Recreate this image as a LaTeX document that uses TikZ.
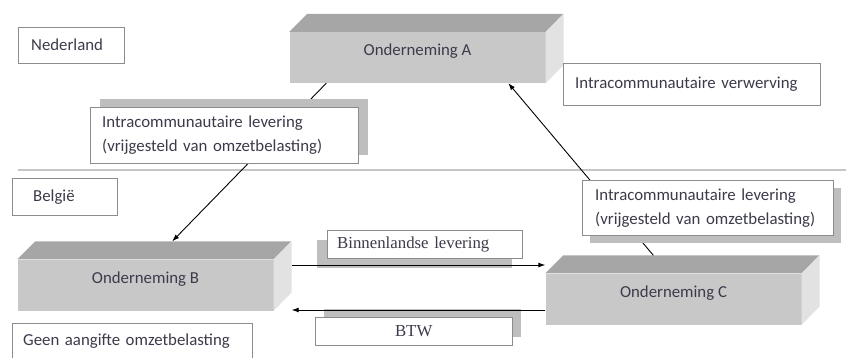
\documentclass[tikz,border=0pt]{standalone}
\usepackage{fontspec}
\setmainfont{Carlito}
\newfontfamily\timesfont{Liberation Serif}
\usepackage{tikz}
\usetikzlibrary{arrows.meta, shadows}
\definecolor{frontgray}{HTML}{C8C8C8}
\definecolor{topgray}{HTML}{A6A6A6}
\definecolor{sidegray}{HTML}{E2E2E2}
\definecolor{shadowgray}{HTML}{BEBEBE}
\definecolor{rulegray}{HTML}{C6C6C6}
\definecolor{textcol}{HTML}{3B3B4B}

\begin{document}
\begin{tikzpicture}[
   x=1pt, y=-1pt, >={Latex[length=7pt,width=5pt]}, font=\fontsize{16.8}{20}\selectfont,
   firm/.style = {rectangle, fill=frontgray, minimum width=256pt, minimum height=51pt,
                  inner sep=0pt, text height=12pt, text depth=15pt, text=textcol},
   infobox/.style = {rectangle, draw=black!45, fill=white, anchor=north west,
                     inner xsep=12pt, inner ysep=0pt, align=left, text=textcol},
   twolines/.style = {font=\fontsize{16.8}{24}\selectfont},
   serif/.style = {font=\timesfont\fontsize{16.8}{20}\selectfont},
   boxshadow/.style 2 args = {drop shadow={shadow xshift=#1, shadow yshift=#2,
                              opacity=1, fill=shadowgray}},
   flow/.style = {->, line width=0.9pt, black}]
  \useasboundingbox (0,0) rectangle (846,358);

  % the three companies as blocks
  \node[firm] (ondA) at (417.5,57.5) {Onderneming A};
  \node[firm] (ondB) at (145.5,285) {Onderneming B};
  \node[firm] (ondC) at (673.5,299) {Onderneming C};
  \foreach \f in {ondA,ondB,ondC}{
    \fill[topgray] (\f.north west) -- ++(18,-18) -- ++(256,0) -- (\f.north east) -- cycle;
    \fill[sidegray] (\f.north east) -- ++(18,-18) -- ++(0,51) -- (\f.south east) -- cycle;
  }

  % border
  \draw[rulegray, line width=2pt] (18,170) -- (846,170);
  \node[infobox, text width=80pt, minimum height=36pt, inner xsep=13pt] (nl) at (18,27) {Nederland};
  \node[infobox, text width=63pt, minimum height=37pt, inner xsep=21pt] (be) at (12,178) {België};

  % cross-border deliveries
  \draw[flow] ([xshift=37pt]ondA.south west) -- ([xshift=155pt, yshift=18pt]ondB.north west);
  \draw[flow] ([xshift=108pt, yshift=18pt]ondC.north west) -- ([xshift=219pt]ondA.south west);

  \node[infobox, twolines, boxshadow={10pt}{8pt}, text width=244pt, minimum height=56pt]
       (levNL) at (90,107) {Intracommunautaire levering\\(vrijgesteld van omzetbelasting)};
  \node[infobox, text width=233pt, minimum height=42pt] (verw) at (563,63) {Intracommunautaire verwerving};
  \node[infobox, twolines, boxshadow={8pt}{-8pt}, text width=225pt, minimum height=55pt, inner xsep=13pt]
       (levBE) at (582,180) {Intracommunautaire levering\\(vrijgesteld van omzetbelasting)};
  \node[infobox, serif, boxshadow={-10pt}{-10pt}, text width=175pt, minimum height=28pt, inner xsep=10pt]
       (binnen) at (327,230) {Binnenlandse levering};
  \node[infobox, serif, boxshadow={9pt}{8pt}, text width=177pt, minimum height=28pt, inner xsep=10pt,
        align=center] (btw) at (315,317) {BTW};
  \node[infobox, text width=218pt, minimum height=36pt, inner xsep=11pt] (geen) at (12,323) {Geen aangifte omzetbelasting};

  % domestic flows
  \draw[flow] ([xshift=18pt, yshift=20pt]ondB.east) -- ([yshift=34pt]ondC.west);
  \draw[flow] ([yshift=-11pt]ondC.west) -- ([xshift=18pt, yshift=-25pt]ondB.east);
\end{tikzpicture}
\end{document}
